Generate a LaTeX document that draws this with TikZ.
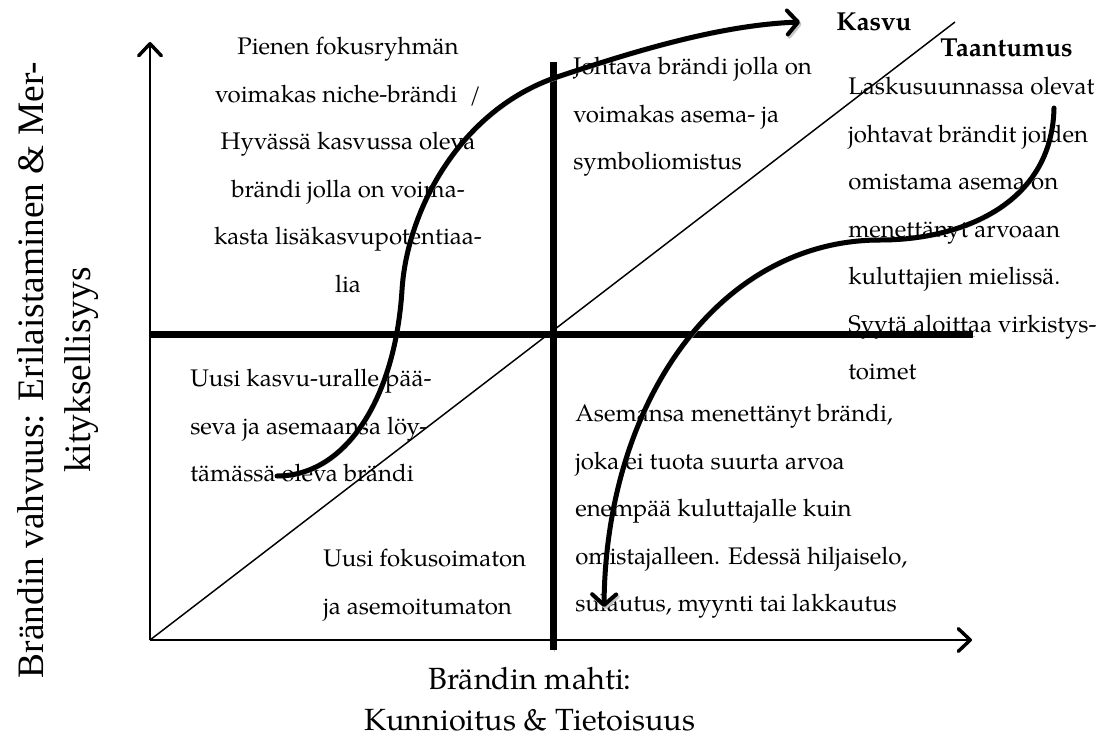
\documentclass[tikz,border=0pt]{standalone}
\usepackage{fontspec}
\setmainfont{TeX Gyre Pagella}
\newfontfamily\timesf{Liberation Serif}
\usetikzlibrary{arrows.meta}
\begin{document}
\begin{tikzpicture}[x=0.75pt,y=-0.75pt,
  body/.style={font=\fontsize{18}{35.6}\selectfont, inner sep=0pt},
  ttl/.style={font=\fontsize{19.5}{24}\selectfont\bfseries, inner sep=0pt},
  xlab/.style={font=\fontsize{23}{30.5}\selectfont, inner sep=0pt, align=center},
  ylab/.style={font=\timesf\fontsize{28}{35}\selectfont, inner sep=0pt, rotate=90, align=center},
  axisline/.style={line width=1.5pt, -{Straight Barb[length=9pt,width=17pt,line width=2.6pt,round]}},
  bar/.style={line width=5.25pt},
  diag/.style={line width=1.1pt},
  curve/.style={line width=3.75pt, line cap=round, -{Straight Barb[length=8pt,width=18pt,line width=3pt,round]}},
  shade/.style={preaction={draw=black!22, transform canvas={shift={(1.2pt,-1.6pt)}}}},
]
\fill[white] (0,0) rectangle (1109,742);
\useasboundingbox (0,0) rectangle (1109,742);

% texts
\node[body, align=center, anchor=north] (tl) at (348,37) {Pienen fokusryhmän\\voimakas niche-brändi \ /\\Hyvässä kasvussa oleva\\brändi jolla on voima-\\kasta lisäkasvupotentiaa-\\lia};
\node[body, align=left, anchor=north west] (tr) at (573,57) {Johtava brändi jolla on\\voimakas asema- ja\\symboliomistus};
\node[body, align=left, anchor=north west] (rr) at (848,77) {Laskusuunnassa olevat\\johtavat brändit joiden\\omistama asema on\\menettänyt arvoaan\\kuluttajien mielissä.\\Syytä aloittaa virkistys-\\toimet};
\node[body, align=left, anchor=north west] (bl) at (190,369) {Uusi kasvu-uralle pää-\\seva ja asemaansa löy-\\tämässä oleva brändi};
\node[body, align=left, anchor=north west] (bl2) at (323,549) {Uusi fokusoimaton\\ja asemoitumaton};
\node[body, align=left, anchor=north west] (br) at (575,404) {Asemansa menettänyt brändi,\\joka ei tuota suurta arvoa\\enempää kuluttajalle kuin\\omistajalleen. Edessä hiljaiselo,\\sulautus, myynti tai lakkautus};
\node[ttl, anchor=west] (kasvu) at (836,22) {Kasvu};
\node[ttl, anchor=west] (taant) at (940,48) {Taantumus};
\node[xlab, anchor=north] (xl) at (530,667) {Brändin mahti:\\Kunnioitus \& Tietoisuus};
\node[ylab] (yl) at (58,370) {Brändin vahvuus: Erilaistaminen \& Mer-\\kityksellisyys};

% axes
\coordinate (O) at (150,640);
\coordinate (ytip) at (150,42);
\coordinate (xtip) at (972,640);
\draw[axisline] (O) -- (ytip);
\draw[axisline] (O) -- (xtip);

% diagonal
\coordinate (dtop) at (955,22);
\draw[diag] (O) -- (dtop);

% thick quadrant bars
\coordinate (vtop) at (553,62);
\coordinate (vbot) at (553,650);
\coordinate (hl) at (150,334);
\coordinate (hr) at (973,334);
\draw[bar, shade] (hl) -- (hr);
\draw[bar, shade] (vtop) -- (vbot);

% growth curve
\coordinate (g0) at (277,476);
\coordinate (g1) at (402,290);
\coordinate (g2) at (557,77);
\coordinate (g3) at (800,22);
\draw[curve, shade] (g0) .. controls (345,476) and (395,400) .. (g1)
  .. controls (407,210) and (460,110) .. (g2)
  .. controls (635,51) and (720,25) .. (g3);

% decline curve
\coordinate (d0) at (1054,108);
\coordinate (d1) at (880,240);
\coordinate (d2) at (604,607);
\draw[curve, shade] (d0) .. controls (1052,205) and (960,240) .. (d1)
  .. controls (720,240) and (606,400) .. (d2);
\end{tikzpicture}
\end{document}
